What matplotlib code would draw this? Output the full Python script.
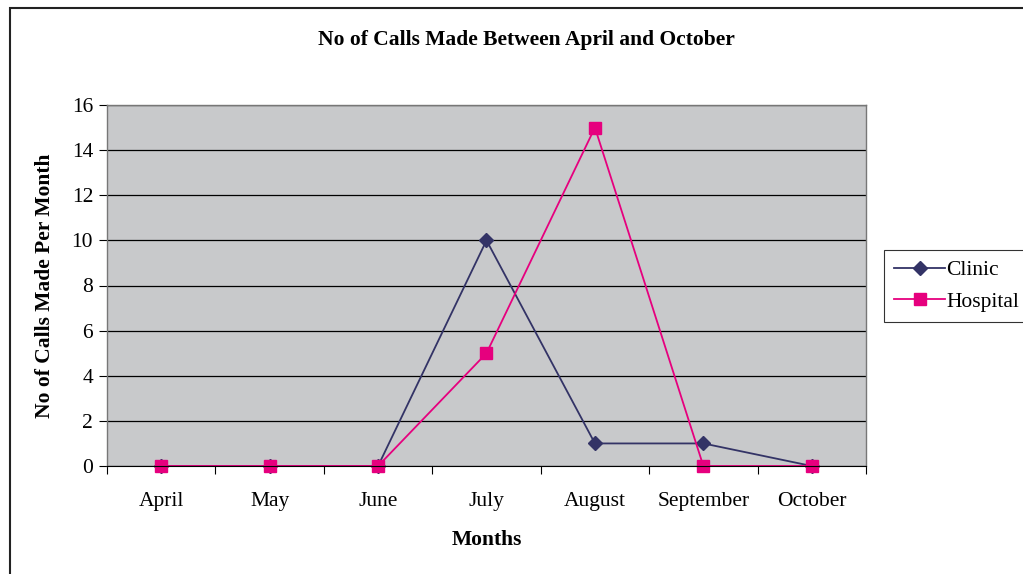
import numpy as np
import matplotlib.pyplot as plt
from matplotlib.patches import Rectangle

months = ["April", "May", "June", "July", "August", "September", "October"]
clinic = [0, 0, 0, 10, 1, 1, 0]
hospital = [0, 0, 0, 5, 15, 0, 0]

plt.rcParams['font.family'] = ['Liberation Serif', 'DejaVu Serif']
fs = 15.5

fig = plt.figure(figsize=(10.23, 5.74), dpi=100)
ax = fig.add_axes([107/1023, 1-466/574, (866-107)/1023, (466-105)/574])

# outer frame (cropped on right and bottom)
fig.patches.append(Rectangle((10/1023, -0.05), 1.2, 1-8/574+0.05, transform=fig.transFigure,
                             fill=False, edgecolor='#222222', linewidth=1.5))

x = np.arange(len(months))
ax.set_facecolor('#C8C9CB')
ax.plot(x, clinic, color='#333366', marker='D', markersize=7, linewidth=1.3, label='Clinic', clip_on=False)
ax.plot(x, hospital, color='#E6007E', marker='s', markersize=8.5, linewidth=1.3, label='Hospital', clip_on=False)

ax.set_xlim(-0.5, 6.5)
ax.set_ylim(0, 16)
ax.set_yticks(range(0, 17, 2))
ax.yaxis.grid(True, color='black', linewidth=0.9)
ax.set_axisbelow(True)

ax.set_xticks(np.arange(-0.5, 7, 1))
ax.set_xticklabels([])
ax.set_xticks(x, minor=True)
ax.set_xticklabels(months, minor=True)
ax.tick_params(axis='x', which='major', length=6, direction='out', color='black')
ax.tick_params(axis='x', which='minor', length=0, pad=18.5, labelsize=fs)
ax.tick_params(axis='y', length=6, direction='out', labelsize=fs, pad=4)

for s in ['top', 'right', 'left']:
    ax.spines[s].set_color('#777777')
    ax.spines[s].set_linewidth(1)
ax.spines['bottom'].set_color('black')

fig.text(526/1023, 1-40/574, 'No of Calls Made Between April and October', fontsize=fs,
         fontweight='bold', ha='center', va='center')
ax.set_xlabel('Months', fontsize=fs, fontweight='bold', labelpad=14)
ax.set_ylabel('No of Calls Made Per Month', fontsize=fs, fontweight='bold', labelpad=12)

leg = ax.legend(loc='center left', bbox_to_anchor=(884/1023, 1-286/574), bbox_transform=fig.transFigure,
                fontsize=fs, frameon=True, fancybox=False, edgecolor='black', borderpad=0.45,
                handlelength=2.4, labelspacing=0.55, handletextpad=0.05, borderaxespad=0)
leg.get_frame().set_linewidth(0.8)

fig.savefig('out.png', dpi=100)
